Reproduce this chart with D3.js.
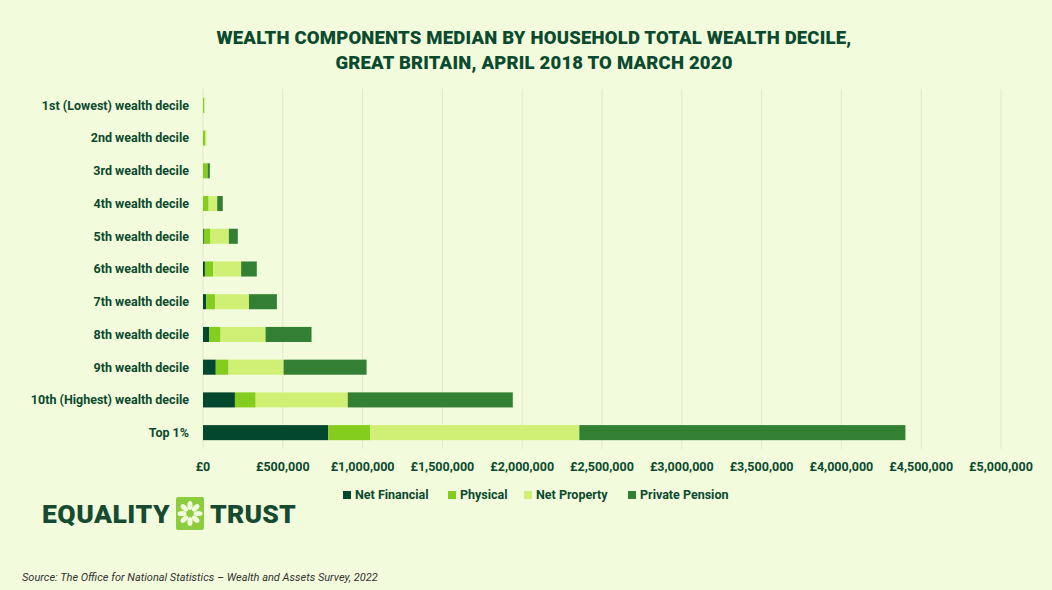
<!DOCTYPE html>
<html><head><meta charset="utf-8">
<script src="https://cdn.jsdelivr.net/npm/d3@7"></script>
<style>
body{margin:0;background:#f2fbdc;font-family:Roboto,sans-serif;}
</style></head><body>
<svg id="chart" width="1052" height="590"></svg>
<script>
// data
const categories = ["1st (Lowest) wealth decile","2nd wealth decile","3rd wealth decile","4th wealth decile","5th wealth decile","6th wealth decile","7th wealth decile","8th wealth decile","9th wealth decile","10th (Highest) wealth decile","Top 1%"];
const seriesNames = ["Net Financial","Physical","Net Property","Private Pension"];
const netFinancial = [0, 0, 0, 0, 5000, 12000, 20000, 40000, 80000, 200000, 785000];
const physical = [8000, 15000, 29000, 35000, 42000, 52000, 55000, 70000, 80000, 130000, 263000];
const netProperty = [0, 6000, 0, 54000, 115000, 175000, 213000, 282000, 345000, 577000, 1310000];
const privatePension = [0, 0, 14000, 35000, 56000, 98000, 175000, 288000, 520000, 1034000, 2043000];
const ticks = [0,500000,1000000,1500000,2000000,2500000,3000000,3500000,4000000,4500000,5000000];
const colors = ["#03472f","#84cc1e","#d0f075","#337f33"];

const svg = d3.select("#chart");
const dark = "#0b4a2e";
svg.append("rect").attr("width",1052).attr("height",590).attr("fill","#f2fbdc");

const x = d3.scaleLinear().domain([0,5000000]).range([203,1001]);
const y = d3.scaleBand().domain(categories).range([89,449]).paddingInner(0.54).paddingOuter(0.27);

const title = svg.append("text").attr("text-anchor","middle").attr("fill",dark)
  .style("font-weight",900).style("font-size","18.5px").style("letter-spacing","0.2px");
title.append("tspan").attr("x",534).attr("y",44).text("WEALTH COMPONENTS MEDIAN BY HOUSEHOLD TOTAL WEALTH DECILE,");
title.append("tspan").attr("x",534).attr("y",69).text("GREAT BRITAIN, APRIL 2018 TO MARCH 2020");

svg.append("g").selectAll("line").data(ticks).join("line")
  .attr("x1",d=>x(d)).attr("x2",d=>x(d)).attr("y1",89).attr("y2",449)
  .attr("stroke","#e2e8c8").attr("stroke-width",1);

const rows = categories.map((c,i)=>({cat:c,vals:[netFinancial[i],physical[i],netProperty[i],privatePension[i]]}));
const stack = d3.stack().keys([0,1,2,3]).value((d,k)=>d.vals[k]);
svg.append("g").selectAll("g").data(stack(rows)).join("g").attr("fill",(d,i)=>colors[i])
  .selectAll("rect").data(d=>d).join("rect")
  .attr("x",d=>x(d[0])).attr("width",d=>x(d[1])-x(d[0]))
  .attr("y",d=>y(d.data.cat)).attr("height",y.bandwidth());

svg.append("g").selectAll("text").data(categories).join("text")
  .attr("x",189).attr("y",d=>y(d)+y.bandwidth()/2).attr("dy","0.35em")
  .attr("text-anchor","end").attr("fill",dark).style("font-weight",700).style("font-size","12.5px")
  .text(d=>d);

const fmt = d => "£" + d3.format(",")(d);
svg.append("g").selectAll("text").data(ticks).join("text")
  .attr("x",d=>x(d)).attr("y",471).attr("text-anchor","middle").attr("fill",dark)
  .style("font-weight",700).style("font-size","12.5px").text(fmt);

const legX = [343,448,524,628];
const leg = svg.append("g").selectAll("g").data(seriesNames).join("g")
  .attr("transform",(d,i)=>`translate(${legX[i]},495)`);
leg.append("rect").attr("x",0).attr("y",-4).attr("width",8).attr("height",8).attr("fill",(d,i)=>colors[i]);
leg.append("text").attr("x",12).attr("dy","0.35em").attr("fill",dark)
  .style("font-weight",700).style("font-size","12.5px").text(d=>d);

// logo
const logo = svg.append("g").style("font-weight",900).style("font-size","26.5px").attr("fill","#164a31");
logo.append("text").attr("x",42).attr("y",523).style("letter-spacing","0.5px").text("EQUALITY");
logo.append("rect").attr("x",176).attr("y",497).attr("width",28).attr("height",33).attr("rx",2).attr("fill","#8ccc3e");
const petals = d3.range(8);
logo.append("g").attr("transform","translate(190,513.5)").selectAll("ellipse").data(petals).join("ellipse")
  .attr("cx",0).attr("cy",-8).attr("rx",2.6).attr("ry",4.5).attr("fill","#f2fbdc")
  .attr("transform",d=>`rotate(${d*45})`);
logo.append("text").attr("x",210).attr("y",523).style("letter-spacing","0.2px").text("TRUST");

svg.append("text").attr("x",22).attr("y",581).attr("fill","#333").style("font-style","italic")
  .style("font-size","11px").text("Source: The Office for National Statistics – Wealth and Assets Survey, 2022");
</script>
</body></html>
